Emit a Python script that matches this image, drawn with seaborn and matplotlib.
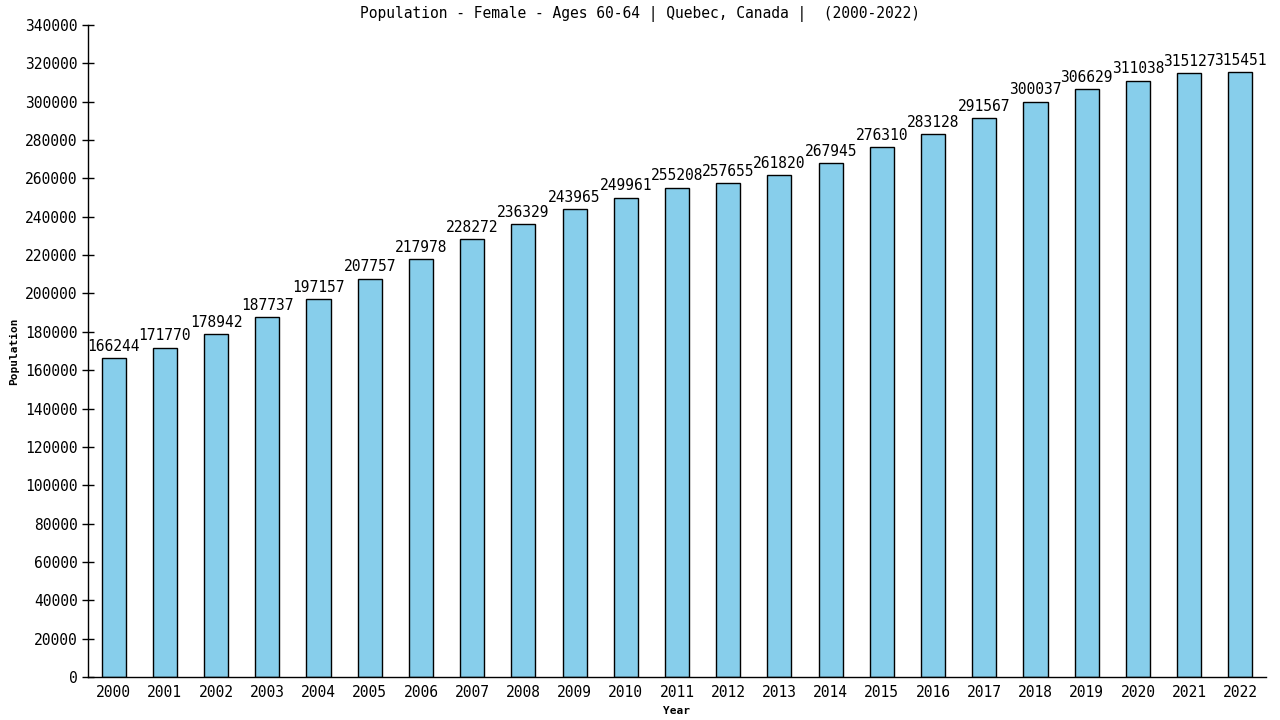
import matplotlib
matplotlib.use('Agg')
import matplotlib.pyplot as plt
import seaborn as sns
import pandas as pd

# Données
years = [str(y) for y in range(2000, 2023)]
population = [166244, 171770, 178942, 187737, 197157, 207757, 217978, 228272,
              236329, 243965, 249961, 255208, 257655, 261820, 267945, 276310,
              283128, 291567, 300037, 306629, 311038, 315127, 315451]

df = pd.DataFrame({'Year': years, 'Population': population})

sns.set_style('white')
plt.rcParams['font.family'] = ['DejaVu Sans Mono', 'DejaVu Sans']
plt.rcParams['text.color'] = 'black'
plt.rcParams['axes.labelcolor'] = 'black'
plt.rcParams['xtick.color'] = 'black'
plt.rcParams['ytick.color'] = 'black'

fig = plt.figure(figsize=(12.8, 7.2), dpi=100)
ax = fig.add_axes([0.06875, 0.0597, 0.9203, 0.9056])

sns.barplot(data=df, x='Year', y='Population', color='#87CEEB',
            edgecolor='black', linewidth=1, width=0.47, saturation=1, ax=ax)

# étiquettes des valeurs
for c in ax.containers:
    ax.bar_label(c, labels=[str(v) for v in population], padding=3,
                 fontsize=10.5, color='black')

ax.set_ylim(0, 340000)
ax.set_yticks(range(0, 340001, 20000))
ax.set_xlim(-0.5, len(years) - 0.5)
ax.tick_params(axis='y', direction='inout', length=8, width=1, labelsize=10.5, left=True)
ax.tick_params(axis='x', length=0, labelsize=10.5, pad=6)
ax.ticklabel_format(axis='y', style='plain')

for s in ['top', 'right']:
    ax.spines[s].set_visible(False)
for s in ['left', 'bottom']:
    ax.spines[s].set_color('black')
    ax.spines[s].set_linewidth(1)

ax.set_xlabel('Year', fontsize=8, fontweight='bold', labelpad=4)
ax.set_ylabel('Population', fontsize=8, fontweight='bold', labelpad=4)
fig.suptitle('Population - Female - Ages 60-64 | Quebec, Canada |  (2000-2022)',
             fontsize=10.5, y=0.992)

fig.savefig('out.png', dpi=100)
